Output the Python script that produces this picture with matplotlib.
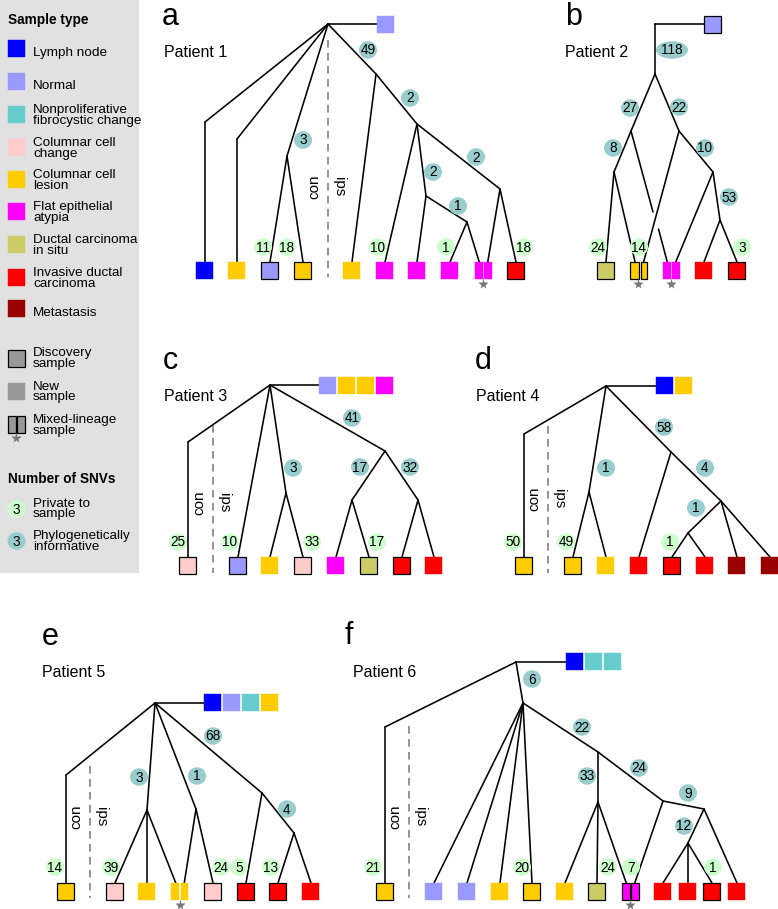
import matplotlib
matplotlib.use("Agg")
import matplotlib.pyplot as plt
from matplotlib.patches import Rectangle, Ellipse

plt.rcParams["font.family"] = ["Liberation Sans", "DejaVu Sans"]

W, H = 778, 909
SQ = 17

COLORS = {
    "LN": "#0000ff",
    "N": "#9999ff",
    "NFC": "#66cccc",
    "CCC": "#ffcccc",
    "CCL": "#ffcc00",
    "FEA": "#ff00ff",
    "DCIS": "#cccc66",
    "IDC": "#ff0000",
    "MET": "#990000",
}
PRIVATE_COLOR = "#ccffcc"
PHYLO_COLOR = "#99cccc"
GRAY = "#999999"

# legend
LEGEND_TYPES = ["LN", "N", "NFC", "CCC", "CCL", "FEA", "DCIS", "IDC", "MET"]
LEGEND_LABELS = ["Lymph node", "Normal", "Nonproliferative\nfibrocystic change",
                 "Columnar cell\nchange", "Columnar cell\nlesion", "Flat epithelial\natypia",
                 "Ductal carcinoma\nin situ", "Invasive ductal\ncarcinoma", "Metastasis"]
LEGEND_SQ_Y = [40, 73, 106, 139, 171, 203, 236, 269, 300]
LEGEND_TXT_Y = [53, 86, 115.5, 148.5, 180.5, 212.5, 245.5, 278.5, 313]

# ---------------- patient 1 ----------------
P1_ROOT_SAMPLES = ["N"]
P1_LEAVES = ["LN", "CCL", "N", "CCL", "CCL", "FEA", "FEA", "FEA", ("FEA", "FEA"), "IDC"]
P1_DISCOVERY = [0, 0, 1, 1, 0, 0, 0, 0, 0, 1]
P1_EDGES = [("R", "k1"), ("k1", "L1"), ("R", "k2"), ("k2", "L2"), ("R", "A"), ("A", "L3"),
            ("A", "L4"), ("R", "B"), ("B", "L5"), ("B", "C"), ("C", "L6"), ("C", "D"),
            ("D", "L7"), ("D", "E"), ("E", "L8"), ("E", "L9a"), ("C", "F"), ("F", "L9b"),
            ("F", "L10")]
P1_PHYLO = {"A": 3, "B": 49, "C": 2, "D": 2, "E": 1, "F": 2}
P1_PRIVATE = {"L3": 11, "L4": 18, "L6": 10, "L8": 1, "L10": 18}

# ---------------- patient 2 ----------------
P2_ROOT_SAMPLES = ["N"]
P2_LEAVES = ["DCIS", ("CCL", "CCL"), ("FEA", "FEA"), "IDC", "IDC"]
P2_DISCOVERY = [1, 1, 0, 0, 1]
P2_EDGES = [("R", "P"), ("P", "Q"), ("Q", "S"), ("S", "L1"), ("S", "L2a"), ("Q", "G1"),
            ("G2", "L3a"), ("P", "Rr"), ("Rr", "L2b"), ("Rr", "T"), ("T", "L3b"),
            ("T", "U"), ("U", "L4"), ("U", "L5")]
P2_PHYLO = {"P": 118, "Q": 27, "S": 8, "Rr": 22, "T": 10, "U": 53}
P2_PRIVATE = {"L1": 24, "L2": 14, "L5": 3}

# ---------------- patient 3 ----------------
P3_ROOT_SAMPLES = ["N", "CCL", "CCL", "FEA"]
P3_LEAVES = ["CCC", "N", "CCL", "CCC", "FEA", "DCIS", "IDC", "IDC"]
P3_DISCOVERY = [1, 1, 0, 1, 0, 1, 1, 0]
P3_EDGES = [("R", "k1"), ("k1", "L1"), ("R", "L2"), ("R", "A"), ("A", "L3"), ("A", "L4"),
            ("R", "B"), ("B", "C"), ("C", "L5"), ("C", "L6"), ("B", "D"), ("D", "L7"),
            ("D", "L8")]
P3_PHYLO = {"A": 3, "B": 41, "C": 17, "D": 32}
P3_PRIVATE = {"L1": 25, "L2": 10, "L4": 33, "L6": 17}

# ---------------- patient 4 ----------------
P4_ROOT_SAMPLES = ["LN", "CCL"]
P4_LEAVES = ["CCL", "CCL", "CCL", "IDC", "IDC", "IDC", "MET", "MET"]
P4_DISCOVERY = [1, 1, 0, 0, 1, 0, 0, 0]
P4_EDGES = [("R", "k1"), ("k1", "L1"), ("R", "A"), ("A", "L2"), ("A", "L3"), ("R", "B"),
            ("B", "L4"), ("B", "C"), ("C", "D"), ("D", "L5"), ("D", "L6"), ("C", "L7"),
            ("C", "L8")]
P4_PHYLO = {"A": 1, "B": 58, "C": 4, "D": 1}
P4_PRIVATE = {"L1": 50, "L2": 49, "L5": 1}

# ---------------- patient 5 ----------------
P5_ROOT_SAMPLES = ["LN", "N", "NFC", "CCL"]
P5_LEAVES = ["CCL", "CCC", "CCL", ("CCL", "CCL"), "CCC", "IDC", "IDC", "IDC"]
P5_DISCOVERY = [1, 1, 0, 0, 1, 1, 1, 0]
P5_EDGES = [("R", "k1"), ("k1", "L1"), ("R", "A"), ("A", "L2"), ("A", "L3"), ("A", "L4a"),
            ("R", "B"), ("B", "L4b"), ("B", "L5"), ("R", "C"), ("C", "L6"), ("C", "D"),
            ("D", "L7"), ("D", "L8")]
P5_PHYLO = {"A": 3, "B": 1, "C": 68, "D": 4}
P5_PRIVATE = {"L1": 14, "L2": 39, "L5": 24, "L6": 5, "L7": 13}

# ---------------- patient 6 ----------------
P6_ROOT_SAMPLES = ["LN", "NFC", "NFC"]
P6_LEAVES = ["CCL", "N", "N", "CCL", "CCL", "CCL", "DCIS", ("FEA", "FEA"),
             "IDC", "IDC", "IDC", "IDC"]
P6_DISCOVERY = [1, 0, 0, 0, 1, 0, 1, 1, 0, 0, 1, 0]
P6_EDGES = [("R", "N"), ("R", "k1"), ("k1", "L1"), ("N", "L2"), ("N", "L3"), ("N", "L4"),
            ("N", "L5"), ("N", "A"), ("A", "B"), ("B", "L6"), ("B", "L7"), ("B", "L8a"),
            ("A", "C"), ("C", "L8b"), ("C", "D"), ("D", "E"), ("E", "L9"), ("E", "L10"),
            ("E", "L11"), ("D", "L12")]
P6_PHYLO = {"N": 6, "A": 22, "B": 33, "C": 24, "D": 9, "E": 12}
P6_PRIVATE = {"L1": 21, "L5": 20, "L7": 24, "L8": 7, "L11": 1}

# ---------------- layout (pixels) ----------------
LAYOUT = {
    1: dict(letter="a", letter_xy=(162, 25), title="Patient 1", title_xy=(164, 57),
            nodes={"R": (328, 24), "k1": (205, 122), "k2": (237, 139), "A": (287, 156),
                   "B": (376, 74), "C": (417, 124), "D": (426, 196), "E": (467, 222),
                   "F": (500, 189)},
            leaf_x=[205, 237, 270, 303, 352, 385, 417, 450, 483.5, 516], leaf_top=262,
            split={},
            root_sq=(377, 16),
            phylo_xy={"A": (303, 140), "B": (368, 50), "C": (410, 98), "D": (433, 172),
                      "E": (458, 206), "F": (476, 157)},
            private_xy={"L3": (263, 247), "L4": (287, 247), "L6": (378, 247),
                        "L8": (446, 247), "L10": (524, 247)},
            divider=(328, 40, 277), con_y=187),
    2: dict(letter="b", letter_xy=(565, 25), title="Patient 2", title_xy=(565, 57),
            nodes={"R": (655, 24), "P": (655, 74), "Q": (631, 131), "S": (614, 172),
                   "G1": (653, 212), "G2": (658.5, 229), "Rr": (679, 131), "T": (713, 172),
                   "U": (720, 220)},
            leaf_x=[606, 638.5, 671.5, 704, 737], leaf_top=262,
            split={2: 0.6},
            root_sq=(704, 16),
            phylo_xy={"P": (672, 50), "Q": (630, 108), "S": (613, 148), "Rr": (679, 107),
                      "T": (705, 148), "U": (729, 197)},
            private_xy={"L1": (598, 247), "L2": (639, 247), "L5": (742, 247)},
            divider=None, con_y=None),
    3: dict(letter="c", letter_xy=(163, 369), title="Patient 3", title_xy=(164, 401),
            nodes={"R": (270, 385), "k1": (188, 442), "A": (286, 493), "B": (385, 451),
                   "C": (352, 500), "D": (418, 500)},
            leaf_x=[188, 238, 270, 303, 336, 369, 402, 434], leaf_top=557,
            split={},
            root_sq=(319, 377),
            phylo_xy={"A": (293, 468), "B": (352, 418), "C": (360, 467), "D": (410, 467)},
            private_xy={"L1": (178, 542), "L2": (230, 542), "L4": (312, 542),
                        "L6": (377, 542)},
            divider=(213, 425, 573), con_y=503),
    4: dict(letter="d", letter_xy=(475, 369), title="Patient 4", title_xy=(476, 401),
            nodes={"R": (606, 386), "k1": (524, 434), "A": (589, 492), "B": (671, 452),
                   "C": (721, 501), "D": (688, 533)},
            leaf_x=[524, 573, 606, 639, 672, 705, 737, 770], leaf_top=557,
            split={},
            root_sq=(656, 377),
            phylo_xy={"A": (606, 468), "B": (664, 427), "C": (705, 468), "D": (696, 508)},
            private_xy={"L1": (513, 542), "L2": (566, 542), "L5": (670, 542)},
            divider=(548, 426, 573), con_y=499),
    5: dict(letter="e", letter_xy=(42, 645), title="Patient 5", title_xy=(42, 677),
            nodes={"R": (155, 703), "k1": (66, 775), "A": (147, 810), "B": (196, 809),
                   "C": (262, 793), "D": (294, 833)},
            leaf_x=[66, 115, 147, 180, 213, 246, 278, 311], leaf_top=883,
            split={},
            root_sq=(204, 694),
            phylo_xy={"A": (139, 777), "B": (197, 776), "C": (213, 736), "D": (287, 809)},
            private_xy={"L1": (55, 867), "L2": (111, 867), "L5": (221, 867),
                        "L6": (239, 867), "L7": (271, 867)},
            divider=(90, 766, 898), con_y=817),
    6: dict(letter="f", letter_xy=(345, 644), title="Patient 6", title_xy=(353, 677),
            nodes={"R": (516, 662), "N": (523, 703), "k1": (385, 727), "A": (598, 752),
                   "B": (598, 802), "C": (663, 801), "D": (704, 809), "E": (688, 843)},
            leaf_x=[385, 434, 467, 500, 532, 565, 597, 630.5, 663, 688, 712, 737],
            leaf_top=883,
            split={},
            root_sq=(566, 653),
            phylo_xy={"N": (532, 679), "A": (582, 727), "B": (587, 776), "C": (639, 768),
                      "D": (688, 793), "E": (684, 826)},
            private_xy={"L1": (373, 867), "L5": (522, 867), "L7": (608, 867),
                        "L8": (631, 867), "L11": (713, 867)},
            divider=(409, 726, 898), con_y=817),
}

PATIENTS = {
    1: (P1_ROOT_SAMPLES, P1_LEAVES, P1_DISCOVERY, P1_EDGES, P1_PHYLO, P1_PRIVATE),
    2: (P2_ROOT_SAMPLES, P2_LEAVES, P2_DISCOVERY, P2_EDGES, P2_PHYLO, P2_PRIVATE),
    3: (P3_ROOT_SAMPLES, P3_LEAVES, P3_DISCOVERY, P3_EDGES, P3_PHYLO, P3_PRIVATE),
    4: (P4_ROOT_SAMPLES, P4_LEAVES, P4_DISCOVERY, P4_EDGES, P4_PHYLO, P4_PRIVATE),
    5: (P5_ROOT_SAMPLES, P5_LEAVES, P5_DISCOVERY, P5_EDGES, P5_PHYLO, P5_PRIVATE),
    6: (P6_ROOT_SAMPLES, P6_LEAVES, P6_DISCOVERY, P6_EDGES, P6_PHYLO, P6_PRIVATE),
}


def square(ax, x0, y0, w, color, border):
    ax.add_patch(Rectangle((x0, y0), w, SQ, facecolor=color,
                           edgecolor="black" if border else color,
                           lw=0.9 if border else 0.3, zorder=3))


def badge(ax, x, y, n, color, width=18):
    ax.add_patch(Ellipse((x, y), width, 17.5, facecolor=color, edgecolor="none", zorder=4))
    ax.text(x, y + 0.5, str(n), ha="center", va="center", fontsize=9.8, zorder=5)


def star(ax, x, y):
    ax.plot([x], [y], marker="*", ms=8, color="#777777", mec="none", zorder=5)


def leaf_point(name, lay):
    idx = int(name[1:].rstrip("ab")) - 1
    cx = lay["leaf_x"][idx]
    y = lay["leaf_top"]
    if name.endswith(("a", "b")):
        frac = lay["split"].get(idx + 1, 0.5)
        x0 = cx - SQ / 2
        if name.endswith("a"):
            return x0 + SQ * frac / 2, y
        return x0 + SQ * frac + SQ * (1 - frac) / 2, y
    return cx, y


def draw_patient(ax, pid):
    root_samples, leaves, discovery, edges, phylo, private = PATIENTS[pid]
    lay = LAYOUT[pid]
    nodes = lay["nodes"]

    def xy(name):
        if name in nodes:
            return nodes[name]
        return leaf_point(name, lay)

    ax.text(*lay["letter_xy"], lay["letter"], fontsize=22, ha="left", va="baseline")
    ax.text(*lay["title_xy"], lay["title"], fontsize=11.5, ha="left", va="baseline")

    # edges
    for a, b in edges:
        (x1, y1), (x2, y2) = xy(a), xy(b)
        ax.plot([x1, x2], [y1, y2], color="black", lw=1.15, solid_capstyle="round", zorder=2)

    # root samples
    rx, ry = nodes["R"]
    sx, sy = lay["root_sq"]
    ax.plot([rx, sx], [ry, ry], color="black", lw=1.15, zorder=2)
    for i, t in enumerate(root_samples):
        square(ax, sx + i * 19, sy, SQ, COLORS[t], pid == 2)

    # leaves
    for i, t in enumerate(leaves):
        cx = lay["leaf_x"][i]
        x0 = cx - SQ / 2
        y0 = lay["leaf_top"]
        border = bool(discovery[i])
        if isinstance(t, tuple):
            frac = lay["split"].get(i + 1, 0.5)
            wl = SQ * frac
            square(ax, x0, y0, wl - 0.8, COLORS[t[0]], border)
            square(ax, x0 + wl + 0.8, y0, SQ - wl - 0.8, COLORS[t[1]], border)
            star(ax, cx, y0 + SQ + 5)
        else:
            square(ax, x0, y0, SQ, COLORS[t], border)

    # SNV counts
    for k, n in phylo.items():
        px, py = lay["phylo_xy"][k]
        badge(ax, px, py, n, PHYLO_COLOR, width=32 if n >= 100 else 18)
    for k, n in private.items():
        px, py = lay["private_xy"][k]
        badge(ax, px, py, n, PRIVATE_COLOR)

    # contra/ipsilateral divider
    if lay["divider"] is not None:
        dx, dy0, dy1 = lay["divider"]
        ax.plot([dx, dx], [dy0, dy1], color="#777777", lw=1.1, dashes=(5, 3.5), zorder=1)
        ax.text(dx - 14, lay["con_y"], "con", rotation=90, fontsize=11,
                ha="center", va="center")
        ax.text(dx + 11, lay["con_y"], "ips", rotation=-90, fontsize=11,
                ha="center", va="center")


def draw_legend(ax):
    ax.add_patch(Rectangle((0, 0), 139, 573, facecolor="#e1e1e1", edgecolor="none", zorder=0))
    ax.text(8, 20, "Sample type", fontsize=9.8, fontweight="bold", va="center")
    for t, lab, sy, ty in zip(LEGEND_TYPES, LEGEND_LABELS, LEGEND_SQ_Y, LEGEND_TXT_Y):
        square(ax, 8, sy, SQ, COLORS[t], False)
        ax.text(33, ty, lab, fontsize=9.7, va="center", linespacing=0.82)

    square(ax, 8, 350, SQ, GRAY, True)
    ax.text(33, 358.5, "Discovery\nsample", fontsize=9.7, va="center", linespacing=0.82)
    square(ax, 8, 383, SQ, GRAY, False)
    ax.text(33, 392, "New\nsample", fontsize=9.7, va="center", linespacing=0.82)
    square(ax, 8, 416, 8.5 - 0.8, GRAY, True)
    square(ax, 8 + 8.5 + 0.8, 416, 8.5 - 0.8, GRAY, True)
    star(ax, 16.5, 438)
    ax.text(33, 425.5, "Mixed-lineage\nsample", fontsize=9.7, va="center", linespacing=0.82)

    ax.text(8, 479, "Number of SNVs", fontsize=9.8, fontweight="bold", va="center")
    badge(ax, 16.5, 509, 3, PRIVATE_COLOR)
    ax.text(33, 509, "Private to\nsample", fontsize=9.7, va="center", linespacing=0.82)
    badge(ax, 16.5, 541, 3, PHYLO_COLOR)
    ax.text(33, 541.5, "Phylogenetically\ninformative", fontsize=9.7, va="center",
            linespacing=0.82)


def main():
    fig = plt.figure(figsize=(W / 100, H / 100), dpi=100)
    ax = fig.add_axes([0, 0, 1, 1])
    ax.set_xlim(0, W)
    ax.set_ylim(H, 0)
    ax.axis("off")

    draw_legend(ax)
    for pid in PATIENTS:
        draw_patient(ax, pid)

    fig.savefig("out.png", dpi=100, facecolor="white")


if __name__ == "__main__":
    main()
